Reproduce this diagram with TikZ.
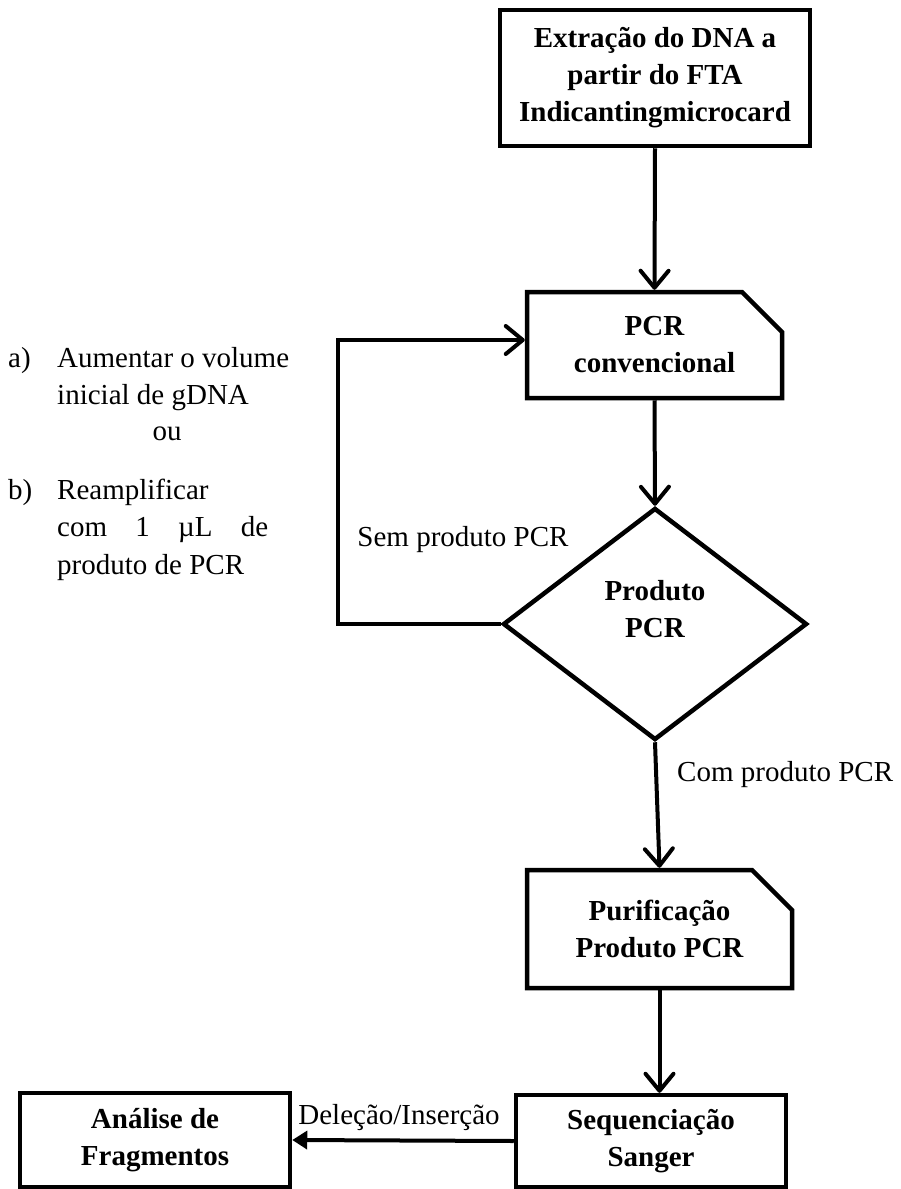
\documentclass[tikz,border=0pt]{standalone}
\usepackage{fontspec}
\setmainfont{Liberation Serif}
\usetikzlibrary{arrows.meta,shapes.geometric,shapes.misc}
\begin{document}
\begin{tikzpicture}[x=1pt,y=-1pt,
  every node/.style={inner sep=0pt, font=\fontsize{29}{37}\selectfont},
  boxtxt/.style={align=center, font=\fontsize{29}{37}\selectfont\bfseries},
  box/.style={boxtxt, draw, line width=4.5pt},
  cbox/.style={box, chamfered rectangle, chamfered rectangle corners=north east, chamfered rectangle sep=20pt},
  dia/.style={draw, diamond, line width=4.5pt},
  arr/.style={line width=4pt, -{Straight Barb[length=17pt,width=28pt,round]}},
  arrfill/.style={line width=4pt, -{Triangle[length=15pt,width=18pt]}}
]
\useasboundingbox (0,0) rectangle (900,1189);

\node[box, minimum width=310pt, minimum height=136pt] (ext) at (655,78) {Extração do DNA a\\partir do FTA\\Indicantingmicrocard};
\node[cbox, minimum width=255pt, minimum height=106pt] (pcr) at (654.5,345) {PCR\\convencional};
\node[dia, minimum width=304pt, minimum height=232pt] (dec) at (655,624) {};
\node[boxtxt] (dect) at (655,609) {Produto\\PCR};
\node[cbox, minimum width=265pt, minimum height=118pt] (pur) at (659.5,929) {Purificação\\Produto PCR};
\node[box, minimum width=270pt, minimum height=92pt] (san) at (651,1141) {Sequenciação\\Sanger};
\node[box, minimum width=270pt, minimum height=94pt] (ana) at (155,1140) {Análise de\\Fragmentos};

\draw[arr] (ext.south) -- (pcr.north);
\draw[arr] (pcr.south) -- (dec.north);
\draw[arr] (dec.south) -- (pur.north);
\draw[arr] (pur.south) -- (pur.south |- san.north);
\draw[arrfill] (san.west) -- (ana.east);

\coordinate (lp) at (338,624);
\coordinate (lq) at (338,340);
\draw[arr] (dec.west) -- (lp) -- (lq) -- (lq -| pcr.west);

\node (sem) at (463,540) {Sem produto PCR};
\node[anchor=west] (com) at (677,775) {Com produto PCR};
\node (del) at (399,1118) {Deleção/Inserção};

\node[anchor=base west] (ia) at (8,367) {a)};
\node[anchor=base west] (ta1) at (57,367) {Aumentar o volume};
\node[anchor=base west] (ta2) at (57,404) {inicial de gDNA};
\node[anchor=base] (tou) at (167,440) {ou};
\node[anchor=base west] (ib) at (8,499) {b)};
\node[anchor=base west] (tb1) at (57,499) {Reamplificar};
\node[anchor=base west] (tb2) at (57,536) {\hbox to 211pt{com\hfill 1\hfill µL\hfill de}};
\node[anchor=base west] (tb3) at (57,574) {produto de PCR};
\end{tikzpicture}
\end{document}
